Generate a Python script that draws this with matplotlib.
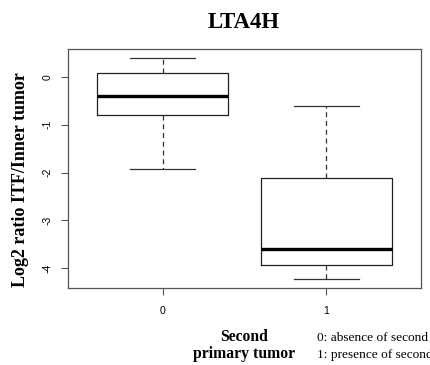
import matplotlib
matplotlib.use("Agg")
import matplotlib.pyplot as plt

# Summary statistics of log2 ratio per group
groups = ["0", "1"]
whisker_low = [-1.92, -4.23]
quartile1 = [-0.79, -3.92]
medians = [-0.40, -3.60]
quartile3 = [0.08, -2.11]
whisker_high = [0.38, -0.62]

stats = []
for g, lo, q1, med, q3, hi in zip(groups, whisker_low, quartile1, medians, quartile3, whisker_high):
    stats.append(dict(label=g, whislo=lo, q1=q1, med=med, q3=q3, whishi=hi, fliers=[]))

W, H = 431, 365
fig = plt.figure(figsize=(W / 100, H / 100), dpi=100)
ax = fig.add_axes([68 / W, 1 - 288 / H, (421 - 68) / W, (288 - 49) / H])

ax.bxp(stats, positions=[1, 2], widths=0.8, showfliers=False,
       boxprops=dict(color="#222222", linewidth=0.9),
       medianprops=dict(color="black", linewidth=2.4, solid_capstyle="butt"),
       whiskerprops=dict(color="#333333", linewidth=0.9, linestyle=(0, (4, 3))),
       capprops=dict(color="#333333", linewidth=0.9),
       capwidths=0.4)

ax.set_xlim(0.42, 2.58)
ax.set_ylim(-4.41, 0.578)
ax.set_yticks([0, -1, -2, -3, -4])
ax.set_yticklabels(["0", "-1", "-2", "-3", "-4"], rotation=90, va="center",
                   family="Liberation Sans", fontsize=7.5)
ax.set_xticks([1, 2])
ax.set_xticklabels(groups, family="Liberation Sans", fontsize=7.5)
for s in ax.spines.values():
    s.set_color("#555555")
    s.set_linewidth(0.9)
ax.tick_params(axis="both", colors="#555555", length=5, width=0.8, labelcolor="black")
ax.tick_params(axis="y", pad=6)
ax.tick_params(axis="x", pad=8)

fig.text(244 / W, 1 - 27.7 / H, "LTA4H", ha="center", va="baseline",
         family="Liberation Serif", fontweight="bold", fontsize=16.5)
fig.text(21 / W, 1 - 179.5 / H, "Log2 ratio ITF/Inner tumor", rotation=90,
         ha="center", va="center", family="Liberation Serif", fontweight="bold", fontsize=13)
fig.text(244 / W, 1 - 341 / H, "Second", ha="center", va="baseline",
         family="Liberation Serif", fontweight="bold", fontsize=11.3)
fig.text(244 / W, 1 - 358.5 / H, "primary tumor", ha="center", va="baseline",
         family="Liberation Serif", fontweight="bold", fontsize=11.3)
fig.text(317.5 / W, 1 - 341.5 / H, "0: absence of second primary tumor", ha="left", va="baseline",
         family="Liberation Serif", fontsize=9.6)
fig.text(317.5 / W, 1 - 358 / H, "1: presence of second primary tumor", ha="left", va="baseline",
         family="Liberation Serif", fontsize=9.6)

fig.savefig("out.png", dpi=100)
